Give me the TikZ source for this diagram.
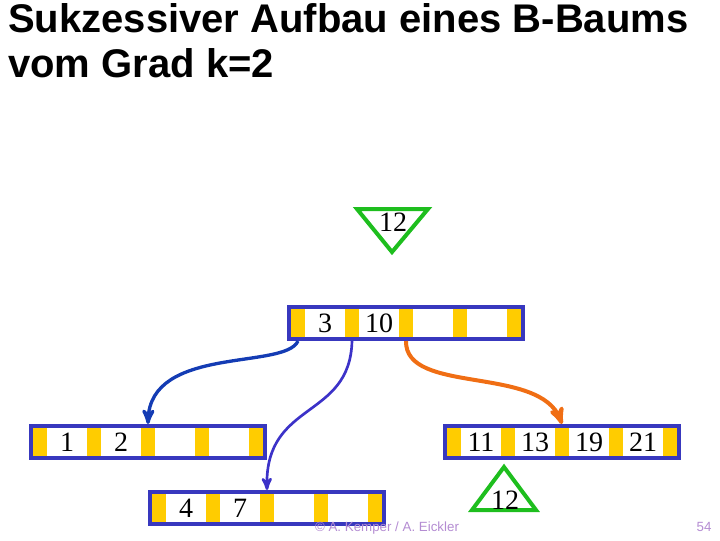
\documentclass[tikz,border=0pt]{standalone}
\usepackage{fontspec}
\setmainfont{Liberation Serif}
\setsansfont{Liberation Sans}
\usepackage{tikz}
\usetikzlibrary{arrows,positioning}

\definecolor{pageblue}{RGB}{56,56,190}
\definecolor{ptryellow}{RGB}{255,204,0}
\definecolor{arrblue}{RGB}{20,60,180}
\definecolor{arrpurple}{RGB}{60,50,200}
\definecolor{arrorange}{RGB}{240,110,20}
\definecolor{sepgreen}{RGB}{30,190,30}
\definecolor{footcol}{RGB}{180,140,210}

% one page of the B-tree: name, left, top, four keys
\newcommand{\btreepage}[7]{
  \node[page] (#1) at (#2+117,#3+16) {};
  \foreach \i in {0,...,4}
    \node[ptr] (#1-p\i) at (#2+9+54*\i,#3+16) {};
  \node[key] (#1-k1) at (#2+36,#3+16) {#4};
  \node[key] (#1-k2) at (#2+90,#3+16) {#5};
  \node[key] (#1-k3) at (#2+144,#3+16) {#6};
  \node[key] (#1-k4) at (#2+198,#3+16) {#7};
}

\begin{document}
\begin{tikzpicture}[x=0.75pt,y=-0.75pt]
          %% B-BAUM

          \tikzstyle{page}=[draw=pageblue,fill=white,line width=3pt,inner sep=0pt,minimum width=175.5pt,minimum height=24pt]
          \tikzstyle{ptr}=[fill=ptryellow,inner sep=0pt,minimum width=10.5pt,minimum height=21pt]
          \tikzstyle{key}=[inner sep=0pt,font=\fontsize{21}{21}\selectfont]
          \tikzstyle{sep}=[draw=sepgreen,line width=3pt,line join=miter]
          \tikzstyle{link}=[->,>=stealth',line width=2.5pt]

          \useasboundingbox (0,0) rectangle (720,540);

          % Titel
          \node[anchor=base west,inner sep=0pt,font=\sffamily\bfseries\fontsize{30}{34}\selectfont] (title-a) at (8,32) {Sukzessiver Aufbau eines B-Baums};
          \node[anchor=base west,inner sep=0pt,font=\sffamily\bfseries\fontsize{30}{34}\selectfont] (title-b) at (8,77) {vom Grad k=2};

          % Trennschluessel oben
          \draw[sep] (357,209) -- (428,209) -- (392,252) -- cycle;
          \node[key] (sep-top) at (393,222) {12};

          % Wurzel
          \btreepage{root}{289}{307}{3}{10}{}{}

          % Blaetter
          \btreepage{leafa}{31}{426}{1}{2}{}{}
          \btreepage{leafb}{150}{492}{4}{7}{}{}
          \btreepage{leafc}{445}{426}{11}{13}{19}{21}

          % Trennschluessel unten
          \draw[sep] (504,467) -- (536,510) -- (472,510) -- cycle;
          \node[key] (sep-low) at (505,500) {12};

          % Zeiger
          \draw[link,arrblue] (root-p0 |- root.south) .. controls (285,370) and (150,345) .. (leafa-p2 |- leafa.north);
          \draw[link,arrpurple,line width=2pt] (root-p1 |- root.south) .. controls (350,420) and (265,400) .. (leafb-p2 |- leafb.north);
          \draw[link,arrorange,line width=3pt] (root-p2 |- root.south) .. controls (405,395) and (540,365) .. (leafc-p2 |- leafc.north);

          % Fusszeile
          \node[font=\sffamily\fontsize{10}{10}\selectfont,text=footcol] (foot) at (387,528) {\textcopyright{} A. Kemper / A. Eickler};
          \node[font=\sffamily\fontsize{10}{10}\selectfont,text=footcol] (pagenum) at (704,527) {54};
\end{tikzpicture}
\end{document}
